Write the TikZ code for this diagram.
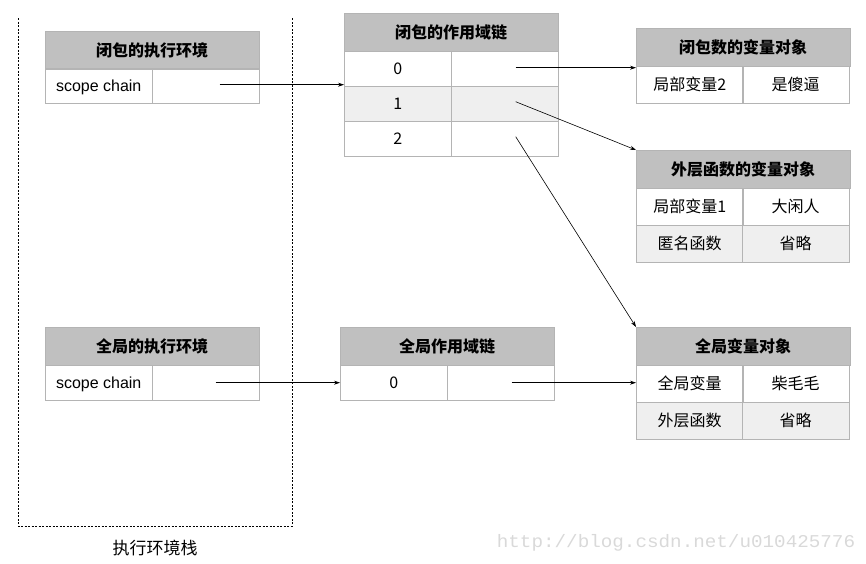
\documentclass[tikz,border=0pt]{standalone}
\usepackage{fontspec}
\setmainfont{Liberation Sans}
\newfontfamily\cjk{Noto Sans CJK SC}
\newfontfamily\wmfont{Liberation Mono}
\usetikzlibrary{arrows.meta}
\definecolor{headc}{HTML}{C0C0C0}
\definecolor{rowc}{HTML}{EFEFEF}
\definecolor{linec}{HTML}{B4B4B4}
\tikzset{
	head/.style={draw=linec, fill=headc, anchor=north west, inner sep=0pt,
		minimum width=214pt, minimum height=38pt, font=\cjk\bfseries\fontsize{16}{16}\selectfont},
	cell/.style={draw=linec, anchor=north west, inner sep=0pt, text height=13pt, text depth=1pt,
		minimum width=107pt, minimum height=35pt, font=\cjk\fontsize{16}{16}\selectfont},
	shaded/.style={cell, fill=rowc},
	tall/.style={minimum height=37pt},
	ptr/.style={-{Stealth[length=6pt,width=4pt]}, line width=0.6pt}
}

\begin{document}
\begin{tikzpicture}[x=1pt,y=-1pt]
	\useasboundingbox (0,0) rectangle (866,563);

	% execution stack
	\draw[dash pattern=on 2pt off 1.5pt, line width=0.6pt] (18,18) -- (18,526) -- (292,526) -- (292,18);
	\node (stack) at (155,548) {\cjk\fontsize{17}{17}\selectfont 执行环境栈};

	% closure execution context
	\node[head] (ceh) at (45,31)  {闭包的执行环境};
	\node[cell] (cek) at (45,68)  {\rmfamily scope chain};
	\node[cell] (cev) at (152,68) {};

	% closure scope chain
	\node[head]   (csh)  at (344,13)  {闭包的作用域链};
	\node[cell]   (cs0k) at (344,51)  {0};
	\node[cell]   (cs0v) at (451,51)  {};
	\node[shaded] (cs1k) at (344,86)  {1};
	\node[shaded] (cs1v) at (451,86)  {};
	\node[cell]   (cs2k) at (344,121) {2};
	\node[cell]   (cs2v) at (451,121) {};

	% closure variable object
	\node[head]      (cvh)  at (636,28) {闭包数的变量对象};
	\node[cell,tall] (cv1k) at (636,66) {局部变量2};
	\node[cell,tall] (cv1v) at (742,66) {是傻逼};

	% outer function variable object
	\node[head]        (ovh)  at (636,150) {外层函数的变量对象};
	\node[cell,tall]   (ov1k) at (636,188) {局部变量1};
	\node[cell,tall]   (ov1v) at (742,188) {大闲人};
	\node[shaded,tall] (ov2k) at (636,225) {匿名函数};
	\node[shaded,tall] (ov2v) at (742,225) {省略};

	% global execution context
	\node[head] (geh) at (45,327)  {全局的执行环境};
	\node[cell] (gek) at (45,365)  {\rmfamily scope chain};
	\node[cell] (gev) at (152,365) {};

	% global scope chain
	\node[head] (gsh)  at (340,327) {全局作用域链};
	\node[cell] (gs0k) at (340,365) {0};
	\node[cell] (gs0v) at (447,365) {};

	% global variable object
	\node[head]        (gvh)  at (636,327) {全局变量对象};
	\node[cell,tall]   (gv1k) at (636,365) {全局变量};
	\node[cell,tall]   (gv1v) at (742,365) {柴毛毛};
	\node[shaded,tall] (gv2k) at (636,402) {外层函数};
	\node[shaded,tall] (gv2v) at (742,402) {省略};

	% pointers
	\draw[ptr] ([xshift=14pt,yshift=1pt]cev.center) -- ([yshift=1pt]cs0k.west |- cev.center);
	\draw[ptr] ([xshift=11pt,yshift=1pt]cs0v.center) -- ([yshift=1pt]cv1k.west |- cs0v.center);
	\draw[ptr] ([xshift=11pt,yshift=2pt]cs1v.center) -- (ovh.north west);
	\draw[ptr] ([xshift=11pt,yshift=2pt]cs2v.center) -- (gvh.north west);
	\draw[ptr] ([xshift=10pt]gev.center) -- (gs0k.west |- gev.center);
	\draw[ptr] ([xshift=11pt]gs0v.center) -- (gv1k.west |- gs0v.center);

	% watermark
	\node[text=gray!30, font=\wmfont\fontsize{18}{18}\selectfont, xscale=1.07, transform shape] (mark) at (676,543) {http://blog.csdn.net/u010425776};
\end{tikzpicture}
\end{document}
